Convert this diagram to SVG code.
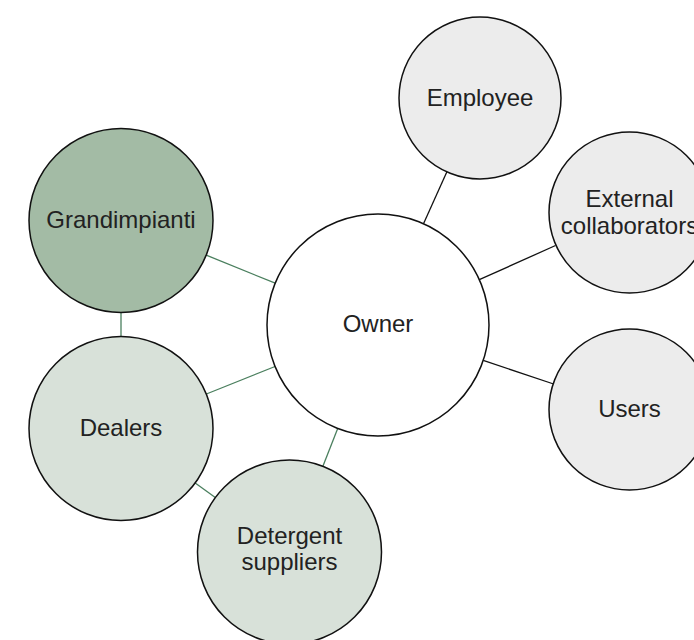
<svg xmlns="http://www.w3.org/2000/svg" width="694" height="640" viewBox="0 0 694 640">
<style>
.n{stroke:#111;stroke-width:1.5}
.owner{fill:#ffffff}
.gray{fill:#ececec}
.dark{fill:#a3bba5}
.light{fill:#d8e1d9}
.cg{stroke:#4a7f5e;stroke-width:1.3;fill:none}
.ck{stroke:#111;stroke-width:1.3;fill:none}
text{font-family:"Liberation Sans",Arial,sans-serif;font-size:24px;fill:#222;text-anchor:middle}
</style>
<rect width="694" height="640" fill="#ffffff"/>
<g id="connectors">
<line class="ck" x1="423.5" y1="223.8" x2="446.8" y2="171.9"/>
<line class="ck" x1="479.3" y1="279.7" x2="555.5" y2="245.5"/>
<line class="ck" x1="483.2" y1="360.4" x2="553.6" y2="384"/>
<line class="cg" x1="275.2" y1="283.2" x2="206.2" y2="255.2"/>
<line class="cg" x1="275" y1="366.5" x2="206.4" y2="394"/>
<line class="cg" x1="337.7" y1="428.5" x2="322.9" y2="466.3"/>
<line class="cg" x1="121" y1="312.5" x2="121" y2="336.5"/>
<line class="cg" x1="195.2" y1="482.9" x2="215.3" y2="497.6"/>
</g>
<g id="owner">
<circle class="n owner" cx="378" cy="325" r="111"/>
<text x="378" y="332">Owner</text>
</g>
<g id="employee">
<circle class="n gray" cx="480" cy="98" r="81"/>
<text x="480" y="106">Employee</text>
</g>
<g id="external-collaborators">
<circle class="n gray" cx="629.5" cy="212.5" r="80.5"/>
<text x="629.5" y="207">External</text>
<text x="629.5" y="234">collaborators</text>
</g>
<g id="users">
<circle class="n gray" cx="629.5" cy="409.5" r="80.5"/>
<text x="629.5" y="417">Users</text>
</g>
<g id="grandimpianti">
<circle class="n dark" cx="121" cy="220.5" r="92"/>
<text x="121" y="228">Grandimpianti</text>
</g>
<g id="dealers">
<circle class="n light" cx="121" cy="428.5" r="92"/>
<text x="121" y="436">Dealers</text>
</g>
<g id="detergent-suppliers">
<circle class="n light" cx="289.5" cy="552" r="92"/>
<text x="289.5" y="544">Detergent</text>
<text x="289.5" y="570">suppliers</text>
</g>
</svg>
